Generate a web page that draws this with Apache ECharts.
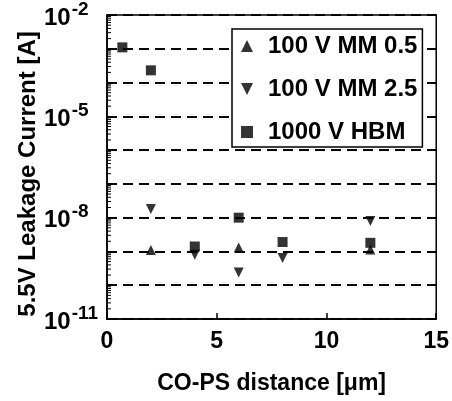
<!DOCTYPE html>
<html>
<head>
<meta charset="utf-8">
<script src="https://cdn.jsdelivr.net/npm/echarts@6/dist/echarts.min.js"></script>
<style>html,body{margin:0;padding:0;background:#fff}#c{width:452px;height:401px}</style>
</head>
<body>
<div id="c"></div>
<script>
// ---- data ----
const seriesNames = ['100 V MM 0.5', '100 V MM 2.5', '1000 V HBM'];
const mm05X = [2, 6, 12];
const mm05Y = [1.1e-9, 1.3e-9, 1.15e-9];
const mm25X = [2, 4, 6, 8, 12];
const mm25Y = [1.8e-8, 8e-10, 2.4e-10, 6.4e-10, 8e-9];
const hbmX = [0.7, 2, 4, 6, 8, 12];
const hbmY = [1.1e-3, 2.3e-4, 1.4e-9, 1.0e-8, 1.9e-9, 1.8e-9];
const xTickValues = [0, 5, 10, 15];
const yLabelExponents = [-2, -5, -8, -11];

const FONT = '"Liberation Sans", Arial, Helvetica, sans-serif';
const pairs = (xs, ys) => xs.map((x, i) => [x, ys[i]]);

// minor log ticks (axis decoration: 2..9 x 10^k)
const minorTicks = [];
for (let k = -11; k <= -3; k++) for (let m = 2; m <= 9; m++) minorTicks.push([0, m * Math.pow(10, k)]);

const downTri = 'path://M0,0L10,0L5,10Z';

const chart = echarts.init(document.getElementById('c'), null, {renderer: 'canvas'});
chart.setOption({
  backgroundColor: '#fff',
  animation: false,
  grid: {left: 107, right: 13, top: 14, bottom: 82, show: true, borderColor: '#000', borderWidth: 1.5, backgroundColor: 'transparent'},
  legend: {
    orient: 'vertical',
    left: 232, top: 29,
    padding: [5, 5, 3, 9],
    itemGap: 19,
    itemWidth: 12, itemHeight: 12,
    backgroundColor: '#fff',
    borderColor: '#000', borderWidth: 1.5,
    textStyle: {fontFamily: FONT, fontSize: 24, fontWeight: 'bold', color: '#000', padding: [0, 0, 0, 10]},
    data: [
      {name: seriesNames[0], icon: 'triangle'},
      {name: seriesNames[1], icon: downTri},
      {name: seriesNames[2], icon: 'rect'}
    ]
  },
  xAxis: {
    type: 'value', min: xTickValues[0], max: xTickValues[xTickValues.length - 1], interval: 5,
    axisLine: {lineStyle: {color: '#000', width: 1.5}},
    axisTick: {inside: true, length: 6, lineStyle: {color: '#000', width: 1.5}},
    splitLine: {show: false},
    axisLabel: {fontFamily: FONT, fontSize: 23, fontWeight: 'bold', color: '#000', margin: 11},
    name: 'CO-PS distance [μm]', nameLocation: 'middle', nameGap: 53,
    nameTextStyle: {fontFamily: FONT, fontSize: 23, fontWeight: 'bold', color: '#000'}
  },
  yAxis: {
    type: 'log', logBase: 10, min: 1e-11, max: 1e-2, interval: 1,
    axisLine: {lineStyle: {color: '#000', width: 1.5}},
    axisTick: {inside: true, length: 7, lineStyle: {color: '#000', width: 1.5}},
    splitLine: {show: true, lineStyle: {type: [10, 6], color: '#000', width: 2}},
    axisLabel: {
      align: 'left', margin: 63,
      formatter: function (v) {
        const e = Math.round(Math.log10(v));
        if (yLabelExponents.indexOf(e) < 0) return '';
        return '{b|10}{s|' + e + '}';
      },
      rich: {
        b: {fontFamily: FONT, fontSize: 24, fontWeight: 'bold', color: '#000', lineHeight: 30, verticalAlign: 'bottom'},
        s: {fontFamily: FONT, fontSize: 19, fontWeight: 'bold', color: '#000', lineHeight: 18, verticalAlign: 'top', padding: [0, 0, 0, 1]}
      }
    },
    name: '5.5V Leakage Current [A]', nameLocation: 'middle', nameGap: 67, nameMoveOverlap: false,
    nameTextStyle: {fontFamily: FONT, fontSize: 24, fontWeight: 'bold', color: '#000', padding: [0, 14, 0, 0]}
  },
  series: [
    {
      type: 'custom', silent: true, z: 1,
      data: minorTicks, encode: {x: 0, y: 1},
      renderItem: function (params, api) {
        const p = api.coord([0, api.value(1)]);
        return {type: 'line', shape: {x1: p[0], y1: p[1], x2: p[0] + 4, y2: p[1]}, style: {stroke: '#000', lineWidth: 1}};
      }
    },
    {name: seriesNames[0], type: 'scatter', symbol: 'triangle', symbolSize: 10, itemStyle: {color: '#000'}, data: pairs(mm05X, mm05Y), z: 3},
    {name: seriesNames[1], type: 'scatter', symbol: downTri, symbolSize: 10, itemStyle: {color: '#000'}, data: pairs(mm25X, mm25Y), z: 3},
    {name: seriesNames[2], type: 'scatter', symbol: 'rect', symbolSize: 10, itemStyle: {color: '#000'}, data: pairs(hbmX, hbmY), z: 4}
  ]
});
</script>
</body>
</html>
